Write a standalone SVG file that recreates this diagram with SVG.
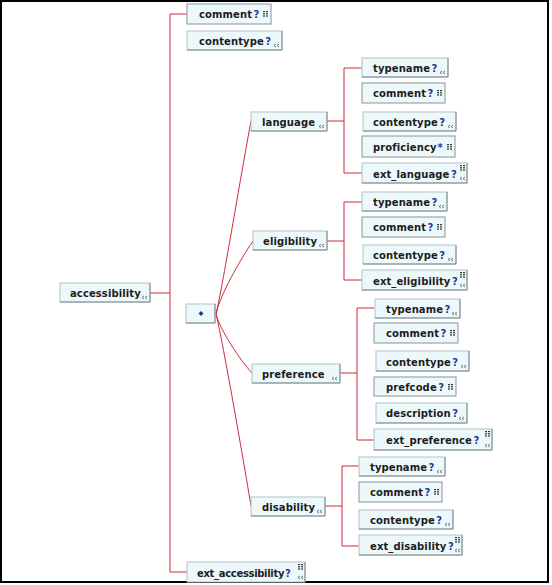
<svg xmlns="http://www.w3.org/2000/svg" width="552" height="585" viewBox="0 0 552 585">
<style>
.bx{fill:#edf8fa;stroke:#b3c1c5;stroke-width:1}
.bc{fill:#edf8fa;stroke:#86949a;stroke-width:1}
.sh{fill:none;stroke:#7d8b90;stroke-width:1}
.lb{font-family:"DejaVu Sans",Verdana,sans-serif;font-weight:bold;font-size:10px;fill:#1c1c1c;letter-spacing:0.1px}
.q{fill:#1f3a93}
.cn{fill:none;stroke:#cc2a3a;stroke-width:1}
.ic{fill:none;stroke:#555;stroke-width:0.8}
.dt{fill:#333}
</style>
<defs>
<g id="grid"><rect class="dt" x="0" y="0" width="2" height="1.2"/><rect class="dt" x="3" y="0" width="2" height="1.2"/><rect class="dt" x="0" y="2.2" width="2" height="1.2"/><rect class="dt" x="3" y="2.2" width="2" height="1.2"/><rect class="dt" x="0" y="4.4" width="2" height="1.2"/><rect class="dt" x="3" y="4.4" width="2" height="1.2"/></g>
<path id="chev" class="ic" d="M2,0 L0,1.5 L2,3 M5,0 L3,1.5 L5,3"/>
</defs>
<rect x="1" y="1" width="547" height="581" fill="#fff" stroke="#000" stroke-width="2"/>

<g id="connectors">
<path class="cn" d="M170,14 V572 M170,14 H187 M170,572 H187 M150,293 H170"/>
<path class="cn" d="M216,314 C222,290 240,180 251,121"/>
<path class="cn" d="M216,314 C220,295 240,260 253,241"/>
<path class="cn" d="M216,314 C220,330 240,360 252,373"/>
<path class="cn" d="M216,314 C222,338 240,440 251,506"/>
<path class="cn" d="M327,121 H344 M344,68 V173 M344,68 H362 M344,173 H362"/>
<path class="cn" d="M327,241 H344 M344,202 V280 M344,202 H362 M344,280 H362"/>
<path class="cn" d="M340,373 H357 M357,308 V440 M357,308 H374 M357,440 H374"/>
<path class="cn" d="M325,506 H342 M342,466 V546 M342,466 H359 M342,546 H359"/>
</g>

<g id="accessibility"><rect class="bx" x="60" y="283" width="90" height="19"/><path class="sh" d="M150,283 V302 H60"/><text class="lb" x="70" y="297">accessibility</text><use href="#chev" x="142" y="296"/></g>

<g id="comment_top"><rect class="bc" x="187" y="4" width="84" height="20"/><text class="lb" x="199" y="18">comment<tspan class="q" dx="1.5">?</tspan></text><use href="#grid" x="263" y="11"/></g>
<g id="contentype_top"><rect class="bx" x="187" y="31" width="95" height="19"/><path class="sh" d="M282,31 V50 H187"/><text class="lb" x="199" y="45">contentype<tspan class="q" dx="1.5">?</tspan></text><use href="#chev" x="274" y="44"/></g>

<g id="choice"><rect class="bx" x="186" y="304" width="29" height="19"/><path class="sh" d="M215,304 V323 H186"/><path d="M201,311 L203.5,313.5 L201,316 L198.5,313.5 Z" fill="#1f3a93"/></g>

<g id="ext_accessibility"><rect class="bx" x="187" y="562" width="118" height="20"/><path class="sh" d="M305,562 V582"/><text class="lb" x="197" y="577" textLength="94" lengthAdjust="spacing">ext_accessibility<tspan class="q" dx="1">?</tspan></text><use href="#grid" x="298" y="564"/><use href="#chev" x="298" y="576"/></g>

<g id="language"><rect class="bx" x="251" y="112" width="76" height="19"/><path class="sh" d="M327,112 V131 H251"/><text class="lb" x="262" y="126">language</text><use href="#chev" x="319" y="125"/></g>
<g id="language_typename"><rect class="bx" x="362" y="58" width="86" height="19"/><path class="sh" d="M448,58 V77 H362"/><text class="lb" x="373" y="72">typename<tspan class="q" dx="1.5">?</tspan></text><use href="#chev" x="440" y="71"/></g>
<g id="language_comment"><rect class="bc" x="362" y="83" width="83" height="20"/><text class="lb" x="373" y="97">comment<tspan class="q" dx="1.5">?</tspan></text><use href="#grid" x="437" y="90"/></g>
<g id="language_contentype"><rect class="bx" x="363" y="112" width="93" height="19"/><path class="sh" d="M456,112 V131 H363"/><text class="lb" x="373" y="126">contentype<tspan class="q" dx="1.5">?</tspan></text><use href="#chev" x="448" y="125"/></g>
<g id="language_proficiency"><rect class="bc" x="362" y="136" width="93" height="21"/><text class="lb" x="373" y="151">proficiency<tspan class="q" dx="1">*</tspan></text><use href="#grid" x="447" y="144"/></g>
<g id="ext_language"><rect class="bx" x="362" y="163" width="105" height="20"/><path class="sh" d="M467,163 V183 H362"/><text class="lb" x="373" y="178">ext_language<tspan class="q" dx="1.5">?</tspan></text><use href="#grid" x="460" y="165"/><use href="#chev" x="460" y="177"/></g>

<g id="eligibility"><rect class="bx" x="253" y="231" width="74" height="19"/><path class="sh" d="M327,231 V250 H253"/><text class="lb" x="263" y="245">eligibility</text><use href="#chev" x="319" y="244"/></g>
<g id="eligibility_typename"><rect class="bx" x="362" y="192" width="85" height="19"/><path class="sh" d="M447,192 V211 H362"/><text class="lb" x="373" y="206">typename<tspan class="q" dx="1.5">?</tspan></text><use href="#chev" x="439" y="205"/></g>
<g id="eligibility_comment"><rect class="bc" x="362" y="217" width="83" height="20"/><text class="lb" x="373" y="231">comment<tspan class="q" dx="1.5">?</tspan></text><use href="#grid" x="437" y="224"/></g>
<g id="eligibility_contentype"><rect class="bx" x="363" y="245" width="93" height="19"/><path class="sh" d="M456,245 V264 H363"/><text class="lb" x="373" y="259">contentype<tspan class="q" dx="1.5">?</tspan></text><use href="#chev" x="448" y="258"/></g>
<g id="ext_eligibility"><rect class="bx" x="362" y="270" width="105" height="20"/><path class="sh" d="M467,270 V290 H362"/><text class="lb" x="373" y="285">ext_eligibility<tspan class="q" dx="1.5">?</tspan></text><use href="#grid" x="460" y="272"/><use href="#chev" x="460" y="284"/></g>

<g id="preference"><rect class="bx" x="252" y="364" width="88" height="19"/><path class="sh" d="M340,364 V383 H252"/><text class="lb" x="262" y="378">preference</text><use href="#chev" x="332" y="377"/></g>
<g id="preference_typename"><rect class="bx" x="375" y="299" width="85" height="19"/><path class="sh" d="M460,299 V318 H375"/><text class="lb" x="386" y="313">typename<tspan class="q" dx="1.5">?</tspan></text><use href="#chev" x="452" y="312"/></g>
<g id="preference_comment"><rect class="bc" x="374" y="323" width="84" height="20"/><text class="lb" x="386" y="337">comment<tspan class="q" dx="1.5">?</tspan></text><use href="#grid" x="450" y="330"/></g>
<g id="preference_contentype"><rect class="bx" x="376" y="351" width="93" height="20"/><path class="sh" d="M469,351 V371 H376"/><text class="lb" x="386" y="366">contentype<tspan class="q" dx="1.5">?</tspan></text><use href="#chev" x="461" y="365"/></g>
<g id="preference_prefcode"><rect class="bc" x="374" y="377" width="82" height="19"/><text class="lb" x="386" y="391">prefcode<tspan class="q" dx="1.5">?</tspan></text><use href="#grid" x="448" y="384"/></g>
<g id="preference_description"><rect class="bx" x="376" y="403" width="91" height="20"/><path class="sh" d="M467,403 V423 H376"/><text class="lb" x="386" y="417">description<tspan class="q" dx="1.5">?</tspan></text><use href="#chev" x="459" y="417"/></g>
<g id="ext_preference"><rect class="bx" x="374" y="429" width="118" height="21"/><path class="sh" d="M492,429 V450 H374"/><text class="lb" x="386" y="444">ext_preference<tspan class="q" dx="1.5">?</tspan></text><use href="#grid" x="485" y="431"/><use href="#chev" x="485" y="444"/></g>

<g id="disability"><rect class="bx" x="251" y="497" width="74" height="19"/><path class="sh" d="M325,497 V516 H251"/><text class="lb" x="262" y="511">disability</text><use href="#chev" x="317" y="510"/></g>
<g id="disability_typename"><rect class="bx" x="359" y="457" width="86" height="19"/><path class="sh" d="M445,457 V476 H359"/><text class="lb" x="370" y="471">typename<tspan class="q" dx="1.5">?</tspan></text><use href="#chev" x="437" y="470"/></g>
<g id="disability_comment"><rect class="bc" x="359" y="482" width="83" height="20"/><text class="lb" x="370" y="496">comment<tspan class="q" dx="1.5">?</tspan></text><use href="#grid" x="434" y="489"/></g>
<g id="disability_contentype"><rect class="bx" x="359" y="510" width="94" height="19"/><path class="sh" d="M453,510 V529 H359"/><text class="lb" x="370" y="524">contentype<tspan class="q" dx="1.5">?</tspan></text><use href="#chev" x="445" y="523"/></g>
<g id="ext_disability"><rect class="bx" x="359" y="535" width="103" height="20"/><path class="sh" d="M462,535 V555 H359"/><text class="lb" x="370" y="550">ext_disability<tspan class="q" dx="1.5">?</tspan></text><use href="#grid" x="455" y="537"/><use href="#chev" x="455" y="549"/></g>
</svg>
